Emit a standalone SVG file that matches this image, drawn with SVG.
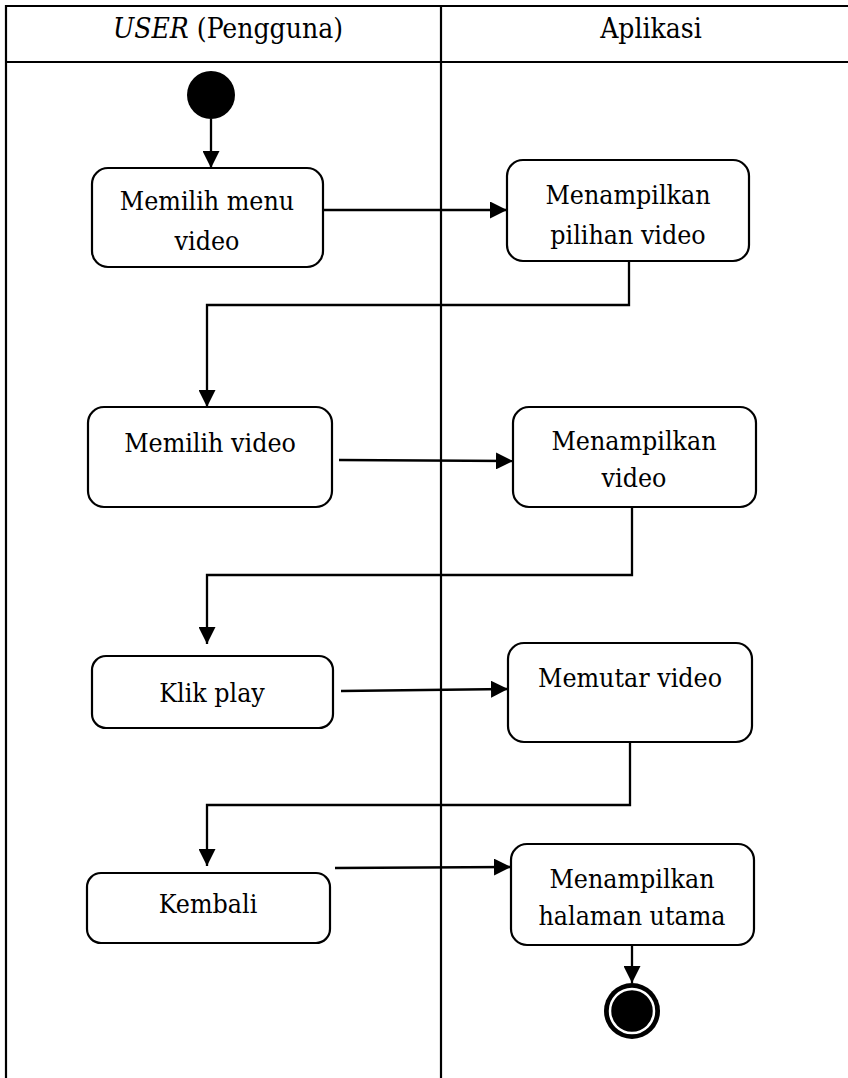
<svg xmlns="http://www.w3.org/2000/svg" width="848" height="1078" viewBox="0 0 848 1078">
  <style>
    .frame { stroke: #000; stroke-width: 2.2; fill: none; }
    .act { fill: #fff; stroke: #000; stroke-width: 2.2; }
    text { font-family: 'DejaVu Serif Condensed', 'DejaVu Serif', serif; font-size: 26.5px; fill: #000; text-anchor: middle; }
    .hdr { font-size: 28px; }
    .flow { stroke: #000; stroke-width: 2.3; fill: none; marker-end: url(#arrow); }
  </style>
  <defs>
    <marker id="arrow" markerUnits="userSpaceOnUse" markerWidth="17" markerHeight="17" viewBox="0 0 17 17" refX="17" refY="8.5" orient="auto">
      <path d="M0,0 L17,8.5 L0,17 Z" fill="#000"/>
    </marker>
  </defs>
  <rect width="848" height="1078" fill="#fff"/>

  <!-- swimlane table -->
  <g id="swimlanes">
    <line class="frame" x1="6" y1="6" x2="848" y2="6"/>
    <line class="frame" x1="6" y1="62" x2="848" y2="62"/>
    <line class="frame" x1="6" y1="5" x2="6" y2="1078"/>
    <line class="frame" x1="441" y1="6" x2="441" y2="1078"/>
    <text class="hdr" x="228" y="38"><tspan font-style="italic">USER</tspan> (Pengguna)</text>
    <text class="hdr" x="651" y="38">Aplikasi</text>
  </g>

  <!-- connectors -->
  <g id="connectors">
    <path class="flow" d="M211,119 L211,168"/>
    <path class="flow" d="M323,210 L507,210"/>
    <path class="flow" d="M629,261 L629,305 L207,305 L207,407"/>
    <path class="flow" d="M339,460 L513,461"/>
    <path class="flow" d="M632,507 L632,575 L207,575 L207,644"/>
    <path class="flow" d="M341,691 L508,689"/>
    <path class="flow" d="M630,742 L630,805 L207,805 L207,866"/>
    <path class="flow" d="M335,868 L511,867"/>
    <path class="flow" d="M632,945 L632,983"/>
  </g>

  <g id="start">
    <circle cx="211" cy="95" r="24" fill="#000"/>
  </g>

  <g id="memilih-menu-video">
    <rect class="act" x="92" y="168" width="231" height="99" rx="16"/>
    <text x="207" y="210">Memilih menu</text>
    <text x="207" y="250">video</text>
  </g>

  <g id="menampilkan-pilihan-video">
    <rect class="act" x="507" y="160" width="242" height="101" rx="16"/>
    <text x="628" y="204">Menampilkan</text>
    <text x="628" y="244">pilihan video</text>
  </g>

  <g id="memilih-video">
    <rect class="act" x="88" y="407" width="244" height="100" rx="16"/>
    <text x="210" y="452">Memilih video</text>
  </g>

  <g id="menampilkan-video">
    <rect class="act" x="513" y="407" width="243" height="100" rx="16"/>
    <text x="634" y="450">Menampilkan</text>
    <text x="634" y="487">video</text>
  </g>

  <g id="klik-play">
    <rect class="act" x="92" y="656" width="241" height="72" rx="14"/>
    <text x="212" y="702">Klik play</text>
  </g>

  <g id="memutar-video">
    <rect class="act" x="508" y="643" width="244" height="99" rx="16"/>
    <text x="630" y="687">Memutar video</text>
  </g>

  <g id="kembali">
    <rect class="act" x="87" y="873" width="243" height="70" rx="14"/>
    <text x="208" y="913">Kembali</text>
  </g>

  <g id="menampilkan-halaman-utama">
    <rect class="act" x="511" y="844" width="243" height="101" rx="16"/>
    <text x="632" y="888">Menampilkan</text>
    <text x="632" y="925">halaman utama</text>
  </g>

  <g id="end">
    <circle cx="632" cy="1011" r="28" fill="#000"/>
    <circle cx="632" cy="1011" r="22" fill="none" stroke="#fff" stroke-width="2.5"/>
  </g>
</svg>
